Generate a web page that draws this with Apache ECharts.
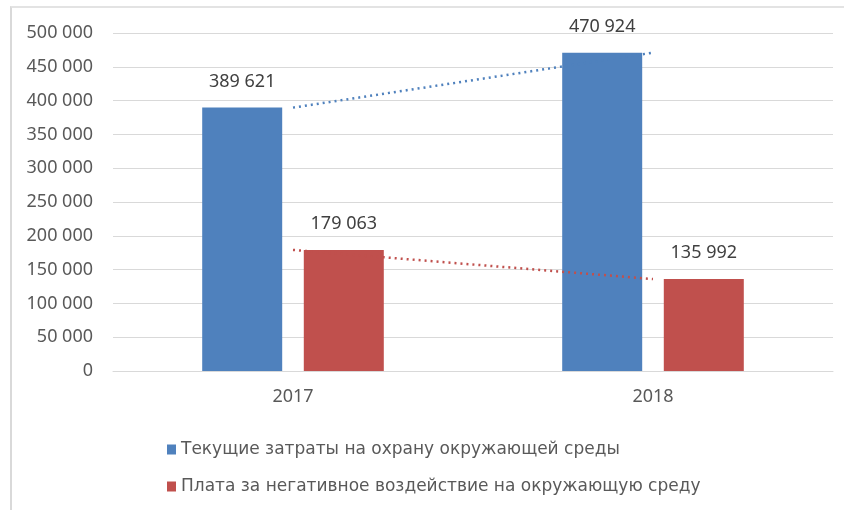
<!DOCTYPE html>
<html>
<head>
<meta charset="utf-8">
<script src="https://cdn.jsdelivr.net/npm/echarts@6/dist/echarts.min.js"></script>
<style>
    html, body { margin: 0; padding: 0; background: #fff; }
    #frame { position: absolute; left: 10px; top: 6px; width: 840px; height: 510px;
             border-left: 2px solid #d9d9d9; border-top: 2px solid #e3e3e3; }
    #chart { position: absolute; left: 0; top: 0; width: 844px; height: 510px; }
</style>
</head>
<body>
<div id="frame"></div>
<div id="chart"></div>
<script>
    var years = ['2017', '2018'];
    var seriesNames = ['Текущие затраты на охрану окружающей среды',
        'Плата за негативное воздействие на окружающую среду'];
    var costs = [389621, 470924];
    var payments = [179063, 135992];

    function fmt(v) {
        return String(v).replace(/\B(?=(\d{3})+(?!\d))/g, ' ');
    }

    var myChart = echarts.init(document.getElementById('chart'));
    var font = '"Noto Sans", sans-serif';
    var option = {
        animation: false,
        textStyle: { fontFamily: font },
        grid: { left: 113, right: 11, top: 33, bottom: 139 },
        legend: {
            data: seriesNames,
            orient: 'vertical',
            left: 167, top: 441,
            padding: 0,
            icon: 'rect',
            itemWidth: 9, itemHeight: 10,
            itemGap: 20,
            textStyle: { fontSize: 17, color: '#595959', fontFamily: '"DejaVu Sans", sans-serif' }
        },
        xAxis: {
            type: 'category',
            data: years,
            axisLine: { lineStyle: { color: '#d9d9d9', width: 1 } },
            axisTick: { show: false },
            axisLabel: { fontSize: 18, color: '#595959', margin: 17 }
        },
        yAxis: {
            type: 'value',
            min: 0, max: 500000, interval: 50000,
            axisLine: { show: false },
            axisTick: { show: false },
            splitLine: { lineStyle: { color: '#d9d9d9' } },
            axisLabel: { fontSize: 18, color: '#595959', margin: 20, formatter: fmt }
        },
        series: [{
            name: seriesNames[0],
            type: 'bar',
            data: costs,
            barWidth: 80,
            barGap: '27%',
            itemStyle: { color: '#4f81bd' },
            label: { show: true, position: 'top', distance: 17, fontSize: 18, color: '#404040',
                formatter: function (p) { return fmt(p.value); } }
        }, {
            name: seriesNames[1],
            type: 'bar',
            data: payments,
            barWidth: 80,
            itemStyle: { color: '#c0504d' },
            label: { show: true, position: 'top', distance: 17, fontSize: 18, color: '#404040',
                formatter: function (p) { return fmt(p.value); } }
        }, {
            // линии тренда
            name: 'trend1',
            type: 'line',
            data: costs,
            symbol: 'none',
            z: 5,
            lineStyle: { color: '#4f81bd', width: 2.5, type: [2, 4] }
        }, {
            name: 'trend2',
            type: 'line',
            data: payments,
            symbol: 'none',
            z: 5,
            lineStyle: { color: '#c0504d', width: 2.5, type: [2, 4] }
        }]
    };
    myChart.setOption(option);
</script>
</body>
</html>
